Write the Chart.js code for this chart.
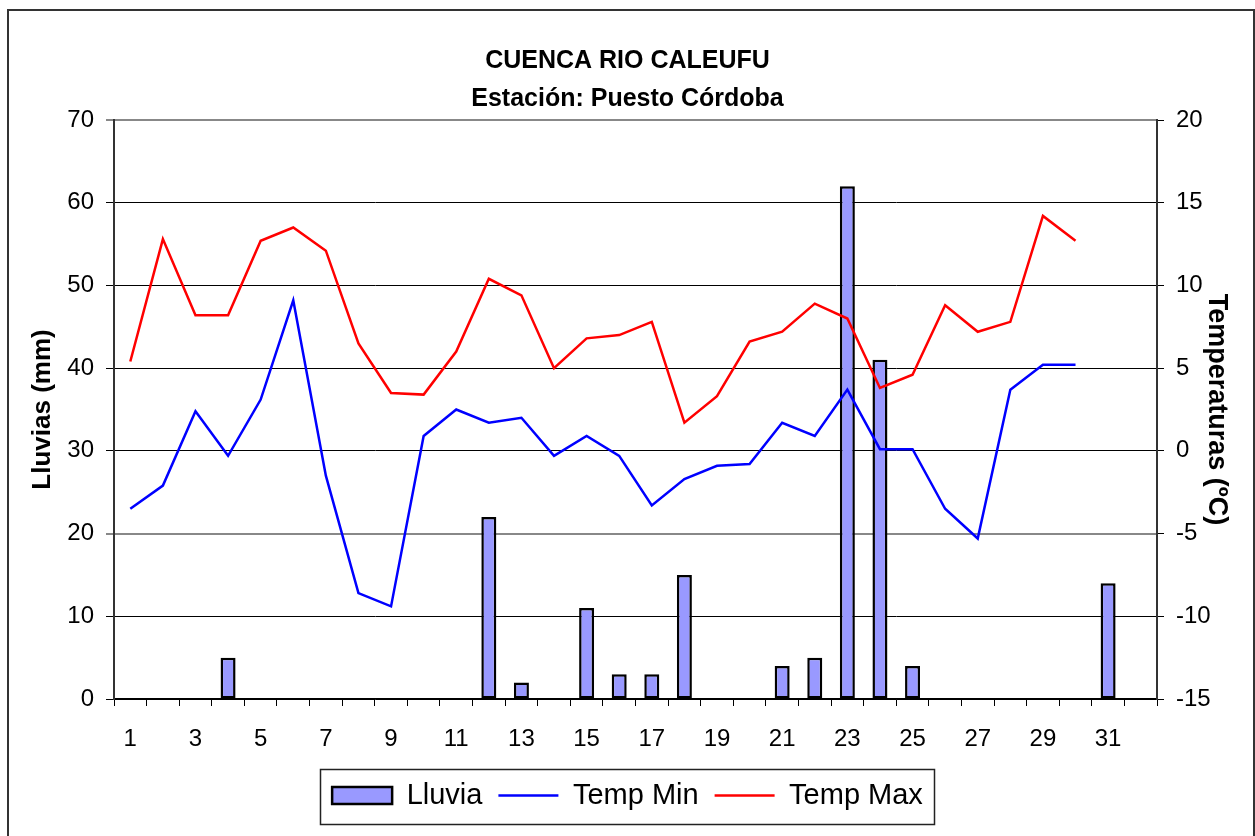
<!DOCTYPE html>
<html>
<head>
<meta charset="utf-8">
<script src="https://cdn.jsdelivr.net/npm/chart.js@4.4.1/dist/chart.umd.min.js"></script>
<style>
html,body{margin:0;padding:0;background:#fff}
canvas{display:block}
</style>
</head>
<body>
<canvas id="c" width="1255" height="836"></canvas>
<script>
// ---- data ----
const titleLines = ['CUENCA RIO CALEUFU', 'Estación: Puesto Córdoba'];
const days = ['1','2','3','4','5','6','7','8','9','10','11','12','13','14','15','16',
              '17','18','19','20','21','22','23','24','25','26','27','28','29','30','31',''];
const lluvia = [null,null,null,5,null,null,null,null,null,null,null,22,2,null,11,3,
                3,15,null,null,4,5,62,41,4,null,null,null,null,null,14,null];
const tempMin = [-3.5,-2.1,2.4,-0.3,3.1,9.1,-1.5,-8.6,-9.4,0.9,2.5,1.7,2.0,-0.3,0.9,-0.3,
                 -3.3,-1.7,-0.9,-0.8,1.7,0.9,3.7,0.1,0.1,-3.5,-5.3,3.7,5.2,5.2,null,null];
const tempMax = [5.4,12.8,8.2,8.2,12.7,13.5,12.1,6.5,3.5,3.4,6.0,10.4,9.4,5.0,6.8,7.0,
                 7.8,1.7,3.3,6.6,7.2,8.9,8.0,3.8,4.6,8.8,7.2,7.8,14.2,12.7,null,null];
const seriesNames = ['Lluvia', 'Temp Min', 'Temp Max'];
const leftTitle = 'Lluvias (mm)';
const rightTitle = 'Temperaturas (ºC)';

const FONT = "'Liberation Sans', Arial, Helvetica, sans-serif";
Chart.defaults.font.family = FONT;
Chart.defaults.color = '#000';

const framePlugin = {
  id: 'frame',
  beforeDraw(chart) {
    const ctx = chart.ctx;
    ctx.save();
    ctx.fillStyle = '#fff';
    ctx.fillRect(0, 0, chart.width, chart.height);
    ctx.restore();
  },
  afterDraw(chart) {
    const ctx = chart.ctx;
    ctx.save();
    ctx.strokeStyle = '#333';
    ctx.lineWidth = 2;
    ctx.strokeRect(8, 10, 1246, 840);
    const hb = chart.legend && chart.legend.legendHitBoxes;
    if (hb && hb.length) {
      const first = hb[0], last = hb[hb.length - 1];
      const cy = first.top + first.height / 2;
      const x0 = first.left - 12, x1 = last.left + last.width + 11;
      ctx.strokeStyle = '#222';
      ctx.lineWidth = 1.5;
      ctx.strokeRect(Math.round(x0) + 0.5, Math.round(cy - 27) + 0.5, Math.round(x1 - x0), 55);
    }
    ctx.restore();
  }
};

new Chart(document.getElementById('c'), {
  type: 'bar',
  data: {
    labels: days,
    datasets: [
      {
        type: 'bar', label: seriesNames[0], data: lluvia, yAxisID: 'y', order: 2,
        backgroundColor: '#9999FF', borderColor: '#000', borderWidth: 2.5,
        borderSkipped: false, barPercentage: 0.46, categoryPercentage: 1.0
      },
      {
        type: 'line', label: seriesNames[1], data: tempMin, yAxisID: 'y1', order: 1,
        borderColor: '#0000FF', backgroundColor: '#0000FF', borderWidth: 2.5,
        pointRadius: 0, tension: 0, fill: false
      },
      {
        type: 'line', label: seriesNames[2], data: tempMax, yAxisID: 'y1', order: 1,
        borderColor: '#FF0000', backgroundColor: '#FF0000', borderWidth: 2.5,
        pointRadius: 0, tension: 0, fill: false
      }
    ]
  },
  options: {
    responsive: false,
    animation: false,
    devicePixelRatio: 1,
    layout: { padding: { left: 0, right: 0, top: 0, bottom: 16 } },
    plugins: {
      tooltip: { enabled: false },
      title: {
        display: true,
        text: titleLines,
        color: '#000',
        font: { family: FONT, size: 25, weight: 'bold', lineHeight: 38 / 25 },
        padding: { top: 42, bottom: 2 }
      },
      legend: {
        display: true,
        position: 'bottom',
        labels: {
          color: '#000',
          font: { family: FONT, size: 29 },
          usePointStyle: true,
          pointStyleWidth: 60,
          boxHeight: 17,
          padding: 16,
          sort: (a, b) => a.datasetIndex - b.datasetIndex,
          generateLabels(chart) {
            return chart.data.datasets.map((ds, i) => ({
              text: ds.label,
              datasetIndex: i,
              fillStyle: ds.backgroundColor,
              strokeStyle: i === 0 ? '#000' : ds.borderColor,
              lineWidth: 2.5,
              pointStyle: i === 0 ? 'rect' : 'line',
              hidden: false,
              fontColor: '#000'
            }));
          }
        }
      }
    },
    scales: {
      x: {
        type: 'category',
        offset: true,
        grid: { display: true, offset: true, drawOnChartArea: false, drawTicks: true,
                tickLength: 7, color: '#000', lineWidth: 1 },
        border: { display: true, color: '#000', width: 1.5 },
        ticks: {
          autoSkip: false, maxRotation: 0, minRotation: 0, padding: 19,
          font: { family: FONT, size: 24 }, color: '#000',
          callback: function (value, index) { return index % 2 === 0 ? this.getLabelForValue(value) : ''; }
        },
        afterFit(scale) { scale.height = 66; }
      },
      y: {
        position: 'left',
        min: 0, max: 70,
        ticks: { stepSize: 10, padding: 12, font: { family: FONT, size: 24 }, color: '#000' },
        grid: {
          drawTicks: true, tickLength: 8,
          color: (c) => (c.tick && (c.tick.value === 70 || c.tick.value === 20)) ? '#888' : '#000',
          lineWidth: (c) => (c.tick && (c.tick.value === 70 || c.tick.value === 20)) ? 2 : 1
        },
        border: { display: true, color: '#333', width: 2 },
        title: { display: true, text: leftTitle, color: '#000',
                 font: { family: FONT, size: 26, weight: 'bold' }, padding: { top: 27, bottom: 0 } },
        afterFit(scale) { scale.width = 114; }
      },
      y1: {
        position: 'right',
        min: -15, max: 20,
        ticks: { stepSize: 5, padding: 12, font: { family: FONT, size: 24 }, color: '#000' },
        grid: { drawOnChartArea: false, drawTicks: true, tickLength: 7, color: '#000' },
        border: { display: true, color: '#333', width: 2 },
        title: { display: true, text: rightTitle, color: '#000',
                 font: { family: FONT, size: 27, weight: 'bold' }, padding: { top: 22, bottom: 0 } },
        afterFit(scale) { scale.width = 98; }
      }
    }
  },
  plugins: [framePlugin]
});
</script>
</body>
</html>
